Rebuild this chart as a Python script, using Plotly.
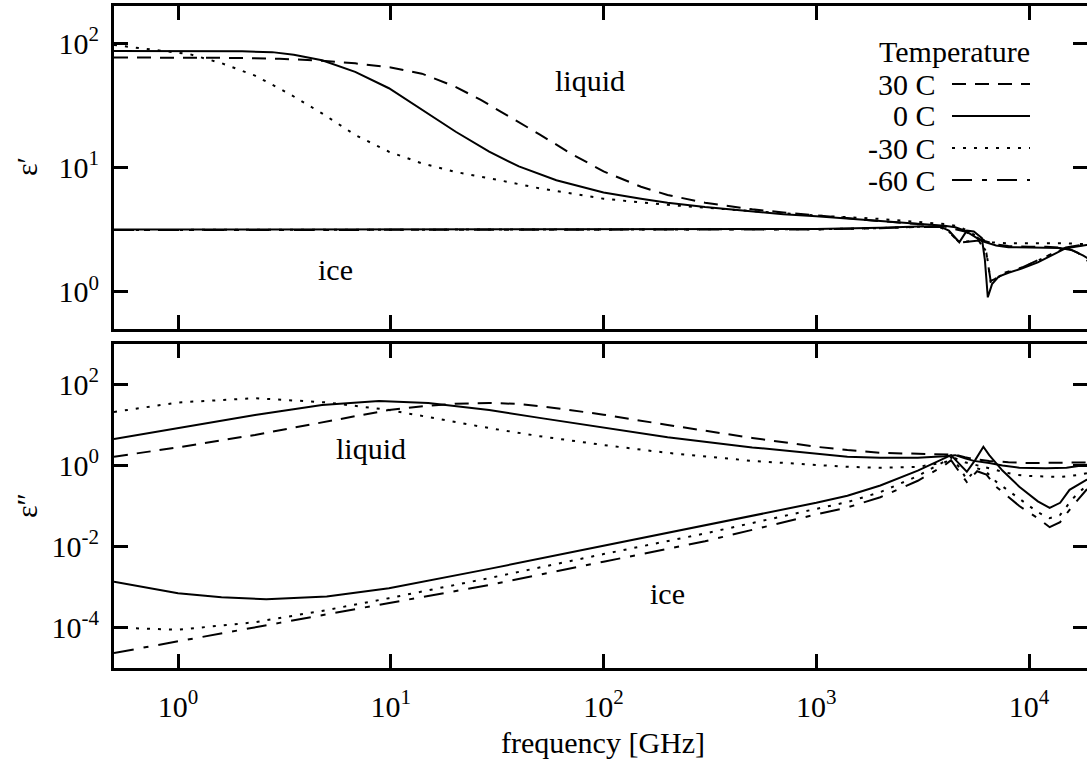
import math
import plotly.graph_objects as go

# ------------------------------------------------------------------ data
# frequencies in GHz, permittivity values

# --- top panel: real part eps'
liq30_re_f = [0.5, 1, 2, 3, 4.75, 6.8, 10, 14, 20, 26.5, 35, 50, 70, 100, 150, 200, 300, 500, 700,
              1000, 1500, 2000, 3000, 4000, 5000, 6000, 7000, 8000, 10000, 12000, 15000, 17000, 19000, 20000]
liq30_re_v = [77, 76.8, 76.3, 75.2, 72.5, 69, 64, 57, 45, 35, 26.5, 18.5, 13, 9.3, 7.0, 6.0, 5.2, 4.6, 4.35,
              4.1, 3.85, 3.7, 3.5, 3.35, 3.05, 2.6, 2.4, 2.33, 2.3, 2.3, 2.25, 2.05, 1.75, 1.6]

liq0_re_f = [0.5, 1, 2, 2.77, 3.5, 4.75, 6.8, 9.8, 14, 20.2, 29, 40, 60, 100, 150, 200, 300, 500, 700,
             1000, 1500, 2000, 3000, 4000, 4500, 5000, 6000, 7000, 8000, 10000, 12000, 14000, 16000, 18000, 20000]
liq0_re_v = [87, 86.9, 86.2, 85, 81, 73, 59, 43.5, 29, 19.4, 13.4, 10.2, 7.9, 6.3, 5.6, 5.2, 4.8, 4.4, 4.2,
             4.05, 3.85, 3.72, 3.55, 3.4, 3.3, 3.1, 2.55, 2.35, 2.28, 2.28, 2.28, 2.25, 2.15, 1.95, 1.75]

liqm30_re_f = [0.5, 0.786, 1.13, 1.61, 2.3, 3.3, 4.75, 6.8, 9.8, 14, 20.2, 29, 50, 100, 200, 500, 1000,
               2000, 3000, 4000, 4700, 5500, 6400, 8000, 10000, 15000, 20000]
liqm30_re_v = [97, 89, 82, 69, 55, 39.6, 27.3, 18.3, 13.4, 10.8, 9.2, 8.2, 6.8, 5.6, 5.0, 4.45, 4.1,
               3.85, 3.65, 3.5, 3.35, 2.9, 2.5, 2.45, 2.45, 2.45, 2.4]

ice0_re_f = [0.5, 10, 100, 500, 1000, 2000, 3000, 3800, 4200, 4700, 5100, 5500, 6000, 6200, 6400, 6700,
             7200, 8000, 9300, 11000, 12500, 14900, 18600, 20000]
ice0_re_v = [3.16, 3.16, 3.16, 3.17, 3.2, 3.27, 3.35, 3.35, 3.1, 2.5, 3.1, 3.05, 2.7, 1.8, 0.9, 1.15,
             1.32, 1.42, 1.54, 1.72, 1.91, 2.24, 2.37, 2.4]

icem30_re_f = [0.5, 10, 100, 500, 1000, 2000, 3000, 3800, 4200, 4700, 5200, 5800, 6300, 6600, 6900, 7500,
               9300, 12500, 14900, 18600, 20000]
icem30_re_v = [3.14, 3.14, 3.14, 3.15, 3.18, 3.25, 3.33, 3.33, 3.05, 2.5, 2.55, 2.6, 2.1, 1.2, 1.24, 1.38,
               1.56, 1.95, 2.26, 2.4, 2.42]

icem60_re_f = [0.5, 10, 100, 500, 1000, 2000, 3000, 3800, 4200, 4700, 5200, 5800, 6300, 6600, 6900, 7500,
               9300, 12500, 14900, 18600, 20000]
icem60_re_v = [3.13, 3.13, 3.13, 3.14, 3.17, 3.24, 3.32, 3.32, 3.04, 2.48, 2.53, 2.58, 2.05, 1.22, 1.26, 1.4,
               1.57, 1.96, 2.27, 2.41, 2.43]

# --- bottom panel: imaginary part eps''
liq30_im_f = [0.5, 1, 2.3, 5, 9.8, 15, 20, 29, 40, 60, 100, 200, 500, 1000, 1400, 2000, 3000, 4000, 4500,
              5000, 5500, 6500, 8000, 10000, 13000, 16000, 20000]
liq30_im_v = [1.65, 2.8, 5.7, 12, 23.5, 30, 33.5, 35, 33, 26, 18, 10, 4.8, 2.9, 2.4, 2.05, 1.95, 1.9, 1.85,
              1.6, 1.45, 1.3, 1.2, 1.15, 1.15, 1.15, 1.2]

liq0_im_f = [0.5, 1, 2.3, 4.75, 8.8, 15, 29, 50, 100, 200, 500, 1000, 1400, 2000, 3000, 4000, 4500, 5000,
             5500, 6500, 7500, 9000, 12000, 15000, 18000, 20000]
liq0_im_v = [4.5, 8.3, 17.7, 31, 39, 35, 23.5, 15, 8.5, 5, 2.8, 2.0, 1.65, 1.55, 1.55, 1.7, 1.8, 1.5,
             1.3, 1.15, 1.0, 0.88, 0.85, 0.88, 1.0, 1.1]

liqm30_im_f = [0.5, 1, 2.3, 5, 9.8, 29, 50, 100, 200, 500, 1000, 1400, 2000, 3000, 4000, 4500, 5000, 6000,
               7000, 8500, 10000, 14000, 17000, 20000]
liqm30_im_v = [21, 36, 46, 36, 23.5, 8.4, 5.3, 3.2, 2.05, 1.3, 1.03, 0.93, 0.88, 0.92, 1.2, 1.5, 1.2, 0.95,
               0.75, 0.6, 0.55, 0.52, 0.58, 0.7]

ice0_im_f = [0.5, 1, 1.6, 2.6, 5, 9.8, 29, 100, 300, 1000, 1400, 2000, 3000, 4000, 4300, 4700, 5100, 5600,
             6100, 6500, 7500, 9000, 11000, 12500, 14000, 15500, 18600, 20000]
ice0_im_v = [1.35e-3, 7e-4, 5.6e-4, 5e-4, 5.8e-4, 9.3e-4, 2.8e-3, 1.05e-2, 3.3e-2, 0.12, 0.18, 0.32, 0.75,
             1.55, 1.8, 1.1, 0.7, 1.4, 2.9, 1.8, 0.75, 0.3, 0.13, 0.09, 0.12, 0.25, 0.44, 0.5]

icem30_im_f = [0.5, 1, 2.3, 5, 9.8, 29, 100, 300, 1000, 1400, 2000, 3000, 4000, 4300, 4700, 5100, 5700,
               6200, 7000, 9000, 11000, 12500, 14000, 16000, 18600, 20000]
icem30_im_v = [1e-4, 8.8e-5, 1.35e-4, 2.7e-4, 5.3e-4, 1.66e-3, 6.5e-3, 2.1e-2, 0.085, 0.125, 0.22, 0.55,
               1.25, 1.6, 0.9, 0.45, 0.85, 0.75, 0.4, 0.15, 0.07, 0.05, 0.06, 0.15, 0.32, 0.38]

icem60_im_f = [0.5, 1, 3, 10, 29, 100, 300, 1000, 1400, 2000, 3000, 4000, 4300, 4700, 5100, 5700, 6300,
               7000, 9000, 11000, 12500, 14000, 16000, 18600, 20000]
icem60_im_v = [2.35e-5, 4.5e-5, 1.3e-4, 4.1e-4, 1.12e-3, 4.2e-3, 1.35e-2, 0.062, 0.092, 0.165, 0.42, 1.0,
               1.35, 0.7, 0.39, 0.72, 0.6, 0.3, 0.1, 0.05, 0.03, 0.04, 0.1, 0.25, 0.3]

legend_labels = ["30 C", "0 C", "-30 C", "-60 C"]
x_tickvals = [1, 10, 100, 1000, 10000]
x_ticktext = ["10<sup>0</sup>", "10<sup>1</sup>", "10<sup>2</sup>", "10<sup>3</sup>", "10<sup>4</sup>"]
top_tickvals = [1, 10, 100]
top_ticktext = ["10<sup>0</sup>", "10<sup>1</sup>", "10<sup>2</sup>"]
bot_tickvals = [1e-4, 1e-2, 1, 100]
bot_ticktext = ["10<sup>-4</sup>", "10<sup>-2</sup>", "10<sup>0</sup>", "10<sup>2</sup>"]

# ------------------------------------------------------------------ style
FONT = "Liberation Serif, Times New Roman, Times, serif"
FS = 30
W, H = 1087, 762
ML, MT, MB = 114, 6, 94
PW = W - ML
PH = H - MT - MB
DASH = {"30 C": "14px,9px", "0 C": "solid", "-30 C": "3px,8px", "-60 C": "20px,10px,5px,10px"}
LW = 2


def pxx(px):
    return (px - ML) / PW


def pxy(py):
    return (H - MB - py) / PH


top_dom = [pxy(329), 1.0]
bot_dom = [0.0, pxy(344)]
x_range = [math.log10(0.5), math.log10(0.5) + PW / 212.75]

fig = go.Figure()


def add(f, v, temp, xa, ya):
    fig.add_trace(go.Scatter(x=f, y=v, mode="lines", xaxis=xa, yaxis=ya, showlegend=False,
                             line=dict(color="black", width=LW, dash=DASH[temp]), hoverinfo="skip"))


# top panel
add(ice0_re_f, ice0_re_v, "0 C", "x2", "y2")
add(icem30_re_f, icem30_re_v, "-30 C", "x2", "y2")
add(icem60_re_f, icem60_re_v, "-60 C", "x2", "y2")
add(liq30_re_f, liq30_re_v, "30 C", "x2", "y2")
add(liq0_re_f, liq0_re_v, "0 C", "x2", "y2")
add(liqm30_re_f, liqm30_re_v, "-30 C", "x2", "y2")
# bottom panel
add(ice0_im_f, ice0_im_v, "0 C", "x", "y")
add(icem30_im_f, icem30_im_v, "-30 C", "x", "y")
add(icem60_im_f, icem60_im_v, "-60 C", "x", "y")
add(liq30_im_f, liq30_im_v, "30 C", "x", "y")
add(liq0_im_f, liq0_im_v, "0 C", "x", "y")
add(liqm30_im_f, liqm30_im_v, "-30 C", "x", "y")
# empty traces so the right-hand tick axes are drawn
fig.add_trace(go.Scatter(x=[], y=[], xaxis="x", yaxis="y3", showlegend=False))
fig.add_trace(go.Scatter(x=[], y=[], xaxis="x2", yaxis="y4", showlegend=False))

tickfont = dict(family=FONT, size=FS, color="black")
xcommon = dict(type="log", range=x_range, tickvals=x_tickvals, ticktext=x_ticktext, ticks="inside",
               ticklen=14, tickwidth=3, tickcolor="black", showline=True, linewidth=3, linecolor="black",
               mirror="ticks", showgrid=False, zeroline=False, tickfont=tickfont, domain=[0, 1],
               ticklabelstandoff=10)
ycommon = dict(type="log", ticks="inside", ticklen=14, tickwidth=3, tickcolor="black", showline=True,
               linewidth=3, linecolor="black", showgrid=False, zeroline=False, tickfont=tickfont,
               ticklabelstandoff=6)
top_range = [math.log10(0.5), math.log10(200)]
bot_range = [-5, 3]

fig.update_layout(
    width=W, height=H,
    margin=dict(l=ML, r=0, t=MT, b=MB, pad=0),
    paper_bgcolor="white", plot_bgcolor="white",
    font=dict(family=FONT, size=FS, color="black"),
    xaxis=dict(anchor="y", **xcommon),
    xaxis2=dict(anchor="y2", matches="x", showticklabels=False, **xcommon),
    yaxis=dict(anchor="x", domain=bot_dom, range=bot_range, tickvals=bot_tickvals, ticktext=bot_ticktext,
               **ycommon),
    yaxis2=dict(anchor="x2", domain=top_dom, range=top_range, tickvals=top_tickvals, ticktext=top_ticktext,
                **ycommon),
    yaxis3=dict(overlaying="y", side="right", anchor="x", type="log", range=bot_range, tickvals=bot_tickvals,
                ticks="inside", ticklen=14, tickwidth=3, tickcolor="black", showticklabels=False,
                showline=False, showgrid=False, zeroline=False),
    yaxis4=dict(overlaying="y2", side="right", anchor="x2", type="log", range=top_range, tickvals=top_tickvals,
                ticks="inside", ticklen=14, tickwidth=3, tickcolor="black", showticklabels=False,
                showline=False, showgrid=False, zeroline=False),
)

ann = []
txtfont = dict(family=FONT, size=FS, color="black")
# axis titles
ann.append(dict(text="ε′", xref="paper", yref="paper", x=pxx(26), y=pxy(167), textangle=-90,
                showarrow=False, font=txtfont, xanchor="center", yanchor="middle"))
ann.append(dict(text="ε″", xref="paper", yref="paper", x=pxx(26), y=pxy(506), textangle=-90,
                showarrow=False, font=txtfont, xanchor="center", yanchor="middle"))
ann.append(dict(text="frequency [GHz]", xref="paper", yref="paper", x=pxx(603), y=pxy(742),
                showarrow=False, font=txtfont, xanchor="center", yanchor="middle"))
# region labels (log coordinates for annotations on log axes)
ann.append(dict(text="liquid", xref="x2", yref="y2", x=math.log10(86), y=math.log10(50), showarrow=False,
                font=txtfont))
ann.append(dict(text="ice", xref="x2", yref="y2", x=math.log10(5.5), y=math.log10(1.5), showarrow=False,
                font=txtfont))
ann.append(dict(text="liquid", xref="x", yref="y", x=math.log10(8.1), y=math.log10(2.6), showarrow=False,
                font=txtfont))
ann.append(dict(text="ice", xref="x", yref="y", x=math.log10(200), y=math.log10(7e-4), showarrow=False,
                font=txtfont))
# legend
ann.append(dict(text="Temperature", xref="paper", yref="paper", x=pxx(1032), y=pxy(52), showarrow=False,
                font=txtfont, xanchor="right", yanchor="middle"))
row_y = [84, 116, 148, 180]
shapes = []
for lab, ry in zip(legend_labels, row_y):
    ann.append(dict(text=lab, xref="paper", yref="paper", x=pxx(938), y=pxy(ry), showarrow=False,
                    font=txtfont, xanchor="right", yanchor="middle"))
    shapes.append(dict(type="line", xref="paper", yref="paper", x0=pxx(952), x1=pxx(1030),
                       y0=pxy(ry), y1=pxy(ry), line=dict(color="black", width=LW, dash=DASH[lab])))

fig.update_layout(annotations=ann, shapes=shapes)
fig.write_html("out.html")
